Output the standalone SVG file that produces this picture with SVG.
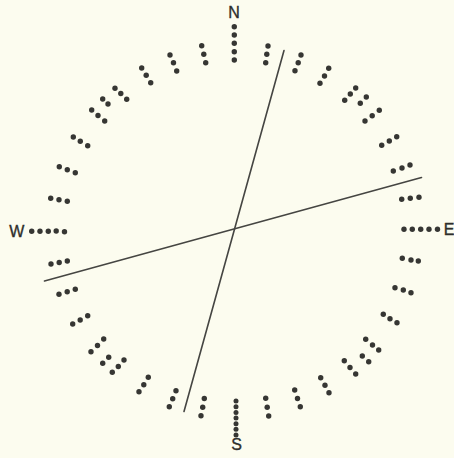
<svg xmlns="http://www.w3.org/2000/svg" width="454" height="458" viewBox="0 0 454 458">
<style>
.bg{fill:#fcfcef}
.d circle{fill:#363633}
.lbl{font-family:"Liberation Sans",Arial,sans-serif;font-size:16px;fill:#2e2e2b;stroke:#2e2e2b;stroke-width:0.35;text-anchor:middle}
.ln{stroke:#454542;stroke-width:1.6;fill:none;stroke-linecap:round}
</style>
<rect class="bg" x="0" y="0" width="454" height="458"/>
<g id="connectors">
<line class="ln" x1="284" y1="50.5" x2="184" y2="411.5"/>
<line class="ln" x1="44.5" y1="281" x2="421.5" y2="177.5"/>
</g>
<g class="d">
<g id="N"><circle cx="234.3" cy="26.7" r="2.7"/><circle cx="234.3" cy="35" r="2.7"/><circle cx="234.3" cy="43.3" r="2.7"/><circle cx="234.3" cy="51.7" r="2.7"/><circle cx="234.3" cy="60" r="2.7"/><text class="lbl" x="234" y="18.3">N</text></g>
<g id="p10"><circle cx="268" cy="46" r="2.7"/><circle cx="266.8" cy="54.3" r="2.7"/><circle cx="265.7" cy="62.7" r="2.7"/></g>
<g id="p20"><circle cx="301" cy="55" r="2.7"/><circle cx="298.2" cy="62.8" r="2.7"/><circle cx="295" cy="70.7" r="2.7"/></g>
<g id="p30"><circle cx="328.7" cy="68.3" r="2.7"/><circle cx="324.5" cy="76" r="2.7"/><circle cx="320" cy="83.3" r="2.7"/></g>
<g id="p40"><circle cx="355.7" cy="88" r="2.7"/><circle cx="350.3" cy="94" r="2.7"/><circle cx="344.7" cy="100.3" r="2.7"/></g>
<g id="p45"><circle cx="366.3" cy="97" r="2.7"/><circle cx="360.3" cy="103.3" r="2.7"/></g>
<g id="p50"><circle cx="379.3" cy="110.3" r="2.7"/><circle cx="372.2" cy="115.7" r="2.7"/><circle cx="365" cy="121" r="2.7"/></g>
<g id="p60"><circle cx="396.7" cy="136.7" r="2.7"/><circle cx="389.3" cy="141" r="2.7"/><circle cx="381.7" cy="145.3" r="2.7"/></g>
<g id="p70"><circle cx="410" cy="165" r="2.7"/><circle cx="402" cy="168" r="2.7"/><circle cx="393.3" cy="171" r="2.7"/></g>
<g id="p80"><circle cx="419" cy="197.3" r="2.7"/><circle cx="410.3" cy="198.3" r="2.7"/><circle cx="401.7" cy="199.3" r="2.7"/></g>
<g id="E"><circle cx="404" cy="229.3" r="2.7"/><circle cx="412.3" cy="229.3" r="2.7"/><circle cx="420.7" cy="229.3" r="2.7"/><circle cx="429" cy="229.3" r="2.7"/><circle cx="437.5" cy="229.3" r="2.7"/><text class="lbl" x="449" y="235.3">E</text></g>
<g id="p100"><circle cx="402.3" cy="258.3" r="2.7"/><circle cx="411" cy="260" r="2.7"/><circle cx="418.3" cy="261" r="2.7"/></g>
<g id="p110"><circle cx="395" cy="287.7" r="2.7"/><circle cx="403.3" cy="290" r="2.7"/><circle cx="411" cy="292.7" r="2.7"/></g>
<g id="p120"><circle cx="383.3" cy="314.3" r="2.7"/><circle cx="390" cy="318.7" r="2.7"/><circle cx="397" cy="322.7" r="2.7"/></g>
<g id="p130"><circle cx="365.7" cy="339.3" r="2.7"/><circle cx="372.5" cy="345" r="2.7"/><circle cx="378.7" cy="350" r="2.7"/></g>
<g id="p135"><circle cx="362.3" cy="356" r="2.7"/><circle cx="368.7" cy="361.7" r="2.7"/></g>
<g id="p140"><circle cx="344.3" cy="360.7" r="2.7"/><circle cx="350" cy="367.5" r="2.7"/><circle cx="355.7" cy="374" r="2.7"/></g>
<g id="p150"><circle cx="320.7" cy="377.7" r="2.7"/><circle cx="325" cy="385.2" r="2.7"/><circle cx="329" cy="392.7" r="2.7"/></g>
<g id="p160"><circle cx="294.7" cy="390" r="2.7"/><circle cx="297.5" cy="398.5" r="2.7"/><circle cx="300.3" cy="406.7" r="2.7"/></g>
<g id="p170"><circle cx="265.7" cy="398.3" r="2.7"/><circle cx="267.2" cy="407.2" r="2.7"/><circle cx="268.7" cy="416" r="2.7"/></g>
<g id="S"><circle cx="236" cy="401" r="2.5"/><circle cx="236" cy="406.7" r="2.5"/><circle cx="236" cy="412.4" r="2.5"/><circle cx="236" cy="418" r="2.5"/><circle cx="236" cy="423.7" r="2.5"/><circle cx="236" cy="429.3" r="2.5"/><circle cx="236" cy="435" r="2.5"/><text class="lbl" x="236.7" y="449.5">S</text></g>
<g id="p190"><circle cx="204.3" cy="398.5" r="2.7"/><circle cx="202.7" cy="407.2" r="2.7"/><circle cx="201" cy="415.7" r="2.7"/></g>
<g id="p200"><circle cx="176" cy="390.7" r="2.7"/><circle cx="172.7" cy="398.8" r="2.7"/><circle cx="169.3" cy="406.7" r="2.7"/></g>
<g id="p210"><circle cx="148.3" cy="377.3" r="2.7"/><circle cx="143.8" cy="384.7" r="2.7"/><circle cx="139" cy="391.7" r="2.7"/></g>
<g id="p220"><circle cx="124" cy="360" r="2.7"/><circle cx="118.3" cy="366.5" r="2.7"/><circle cx="112.3" cy="372.3" r="2.7"/></g>
<g id="p225"><circle cx="108.7" cy="357.3" r="2.7"/><circle cx="102.7" cy="363.3" r="2.7"/></g>
<g id="p230"><circle cx="103.7" cy="339" r="2.7"/><circle cx="97.5" cy="345.5" r="2.7"/><circle cx="91" cy="351.7" r="2.7"/></g>
<g id="p240"><circle cx="87.7" cy="315.7" r="2.7"/><circle cx="80.2" cy="320" r="2.7"/><circle cx="72.7" cy="324" r="2.7"/></g>
<g id="p250"><circle cx="75.3" cy="289.3" r="2.7"/><circle cx="67.2" cy="291.8" r="2.7"/><circle cx="59" cy="294.3" r="2.7"/></g>
<g id="p260"><circle cx="67.3" cy="261" r="2.7"/><circle cx="59.2" cy="262.5" r="2.7"/><circle cx="51" cy="264" r="2.7"/></g>
<g id="W"><circle cx="31.7" cy="231.3" r="2.7"/><circle cx="40" cy="231.3" r="2.7"/><circle cx="48.3" cy="231.3" r="2.7"/><circle cx="56.2" cy="231" r="2.7"/><circle cx="64.5" cy="231.7" r="2.7"/><text class="lbl" x="16.7" y="237.3">W</text></g>
<g id="p280"><circle cx="67.3" cy="201.3" r="2.7"/><circle cx="59" cy="199.8" r="2.7"/><circle cx="50.7" cy="198.3" r="2.7"/></g>
<g id="p290"><circle cx="75.3" cy="172.7" r="2.7"/><circle cx="67.3" cy="169.7" r="2.7"/><circle cx="59.3" cy="166.7" r="2.7"/></g>
<g id="p300"><circle cx="87.7" cy="145.7" r="2.7"/><circle cx="80.3" cy="141.3" r="2.7"/><circle cx="73.3" cy="137" r="2.7"/></g>
<g id="p310"><circle cx="104.7" cy="121" r="2.7"/><circle cx="98" cy="115.5" r="2.7"/><circle cx="91.7" cy="110" r="2.7"/></g>
<g id="p315"><circle cx="108" cy="104" r="2.7"/><circle cx="102.7" cy="99" r="2.7"/></g>
<g id="p320"><circle cx="126.7" cy="99.3" r="2.7"/><circle cx="120.8" cy="93.5" r="2.7"/><circle cx="115" cy="88.3" r="2.7"/></g>
<g id="p330"><circle cx="150.7" cy="82.7" r="2.7"/><circle cx="146.2" cy="75.3" r="2.7"/><circle cx="141.7" cy="68" r="2.7"/></g>
<g id="p340"><circle cx="176.7" cy="71" r="2.7"/><circle cx="173.5" cy="62.8" r="2.7"/><circle cx="170" cy="55" r="2.7"/></g>
<g id="p350"><circle cx="205.7" cy="62.7" r="2.7"/><circle cx="203.8" cy="54.2" r="2.7"/><circle cx="201.7" cy="45.7" r="2.7"/></g>
</g>
</svg>
